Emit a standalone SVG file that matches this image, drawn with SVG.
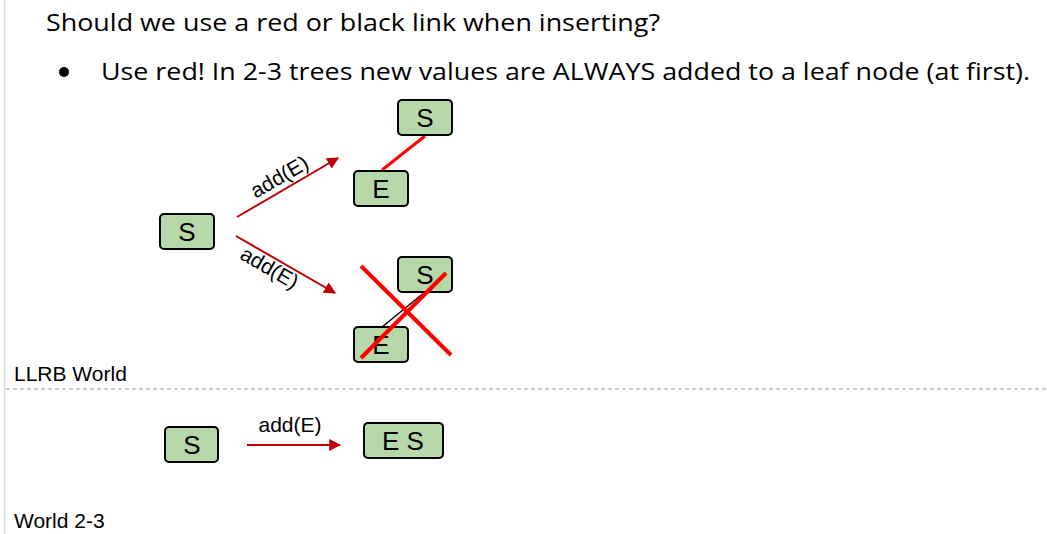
<svg xmlns="http://www.w3.org/2000/svg" width="1047" height="534" viewBox="0 0 1047 534">
  <style>
    .head { font-family: "Open Sans", "Liberation Sans", sans-serif; font-size: 24px; fill: #000; }
    .node rect { fill: #b6d7a8; stroke: #000; stroke-width: 2; }
    .node text { font-family: "Liberation Sans", Arial, sans-serif; font-size: 26px; fill: #000; text-anchor: middle; }
    .lbl { font-family: "Liberation Sans", Arial, sans-serif; font-size: 21px; fill: #000; }
    .arrow { stroke: #c00000; stroke-width: 2; fill: none; marker-end: url(#ah); }
    .cross { stroke: #ff0000; stroke-width: 4; }
  </style>
  <defs>
    <marker id="ah" viewBox="0 0 10 10" refX="9" refY="5" markerWidth="6" markerHeight="6" orient="auto" markerUnits="strokeWidth">
      <path d="M0,0 L10,5 L0,10 z" fill="#c00000"/>
    </marker>
  </defs>
  <rect width="1047" height="534" fill="#fff"/>
  <!-- page margin rule -->
  <line x1="4.5" y1="0" x2="4.5" y2="534" stroke="#d9d9d9" stroke-width="1.5"/>

  <text class="head" x="46" y="31" textLength="614" lengthAdjust="spacingAndGlyphs">Should we use a red or black link when inserting?</text>
  <circle cx="64" cy="72" r="5" fill="#000"/>
  <text class="head" x="101" y="80" textLength="929" lengthAdjust="spacingAndGlyphs">Use red! In 2-3 trees new values are ALWAYS added to a leaf node (at first).</text>

  <!-- section labels and divider -->
  <text class="lbl" x="14" y="381">LLRB World</text>
  <line x1="6" y1="389" x2="1047" y2="389" stroke="#999" stroke-width="1.2" stroke-dasharray="4,3"/>
  <text class="lbl" x="14" y="528">World 2-3</text>

  <g id="connectors">
    <line class="arrow" x1="237" y1="217" x2="338" y2="158"/>
    <line class="arrow" x1="236" y1="236" x2="335" y2="293"/>
    <line id="link-red" x1="425" y1="136" x2="382" y2="170" stroke="#ff0000" stroke-width="3"/>
    <line id="link-black" x1="425" y1="292" x2="382" y2="327" stroke="#000" stroke-width="1.5"/>
    <line class="arrow" x1="247" y1="445" x2="340" y2="445"/>
  </g>

  <text class="lbl" transform="translate(283,183) rotate(-30)" text-anchor="middle">add(E)</text>
  <text class="lbl" transform="translate(266,274) rotate(30)" text-anchor="middle">add(E)</text>
  <text class="lbl" x="290" y="432" text-anchor="middle">add(E)</text>

  <g id="n-s-left" class="node"><rect x="160" y="214" width="54" height="35" rx="4"/><text x="187" y="241">S</text></g>
  <g id="n-s-top" class="node"><rect x="398" y="100" width="54" height="35" rx="4"/><text x="425" y="127">S</text></g>
  <g id="n-e-top" class="node"><rect x="354" y="171" width="54" height="35" rx="4"/><text x="381" y="198">E</text></g>
  <g id="n-s-bot" class="node"><rect x="398" y="257" width="54" height="35" rx="4"/><text x="425" y="284">S</text></g>
  <g id="n-e-bot" class="node"><rect x="354" y="327" width="54" height="35" rx="4"/><text x="381" y="354">E</text></g>
  <g id="n-s-23" class="node"><rect x="165" y="427" width="53" height="35" rx="4"/><text x="192" y="454">S</text></g>
  <g id="n-es-23" class="node"><rect x="364" y="423" width="79" height="35" rx="4"/><text x="403" y="450">E S</text></g>

  <!-- crossed-out alternative -->
  <g id="cross">
    <line class="cross" x1="361" y1="266" x2="451" y2="355"/>
    <line class="cross" x1="446" y1="273" x2="361" y2="358"/>
  </g>
</svg>
